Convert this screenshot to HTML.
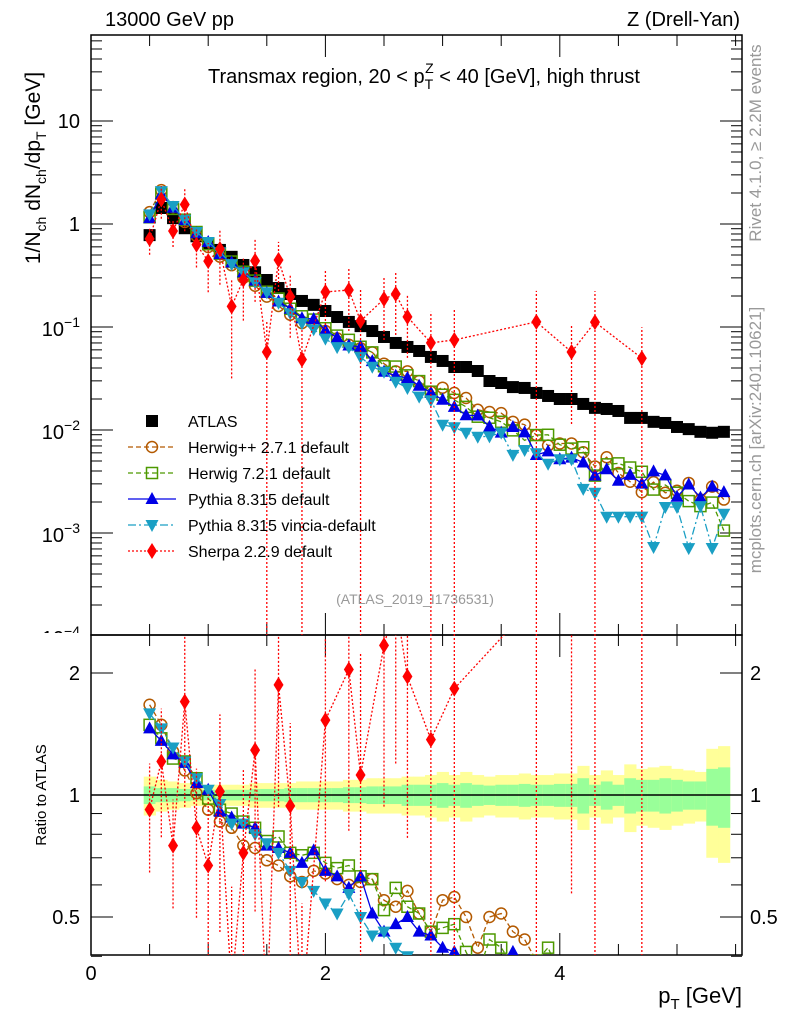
<!DOCTYPE html>
<html><head><meta charset="utf-8"><style>
html,body{margin:0;background:#fff;overflow:hidden;width:786px;height:1024px;}
svg{display:block;font-family:"Liberation Sans",Arial,sans-serif;}
</style></head><body>
<svg id="chart" width="786" height="1024" viewBox="0 0 786 1024">
<defs>
<clipPath id="clipMain"><rect x="91" y="35" width="651" height="600"/></clipPath>
<clipPath id="clipRatio"><rect x="91" y="635" width="651" height="320"/></clipPath>
<clipPath id="clipMain0"><rect x="0" y="0" width="91" height="633"/></clipPath>
</defs>
<g id="bands" clip-path="url(#clipRatio)"></g>
<g id="axes"></g>
<g id="mainData" clip-path="url(#clipMain)"></g>
<g id="ratioData" clip-path="url(#clipRatio)"></g>
<g id="legend"></g>
<text x="105" y="26" font-size="20">13000 GeV pp</text>
<text x="740" y="26" font-size="20" text-anchor="end">Z (Drell-Yan)</text>
<text x="424" y="83" font-size="20" text-anchor="middle">Transmax region, 20 &lt; p<tspan font-size="14" dy="6">T</tspan><tspan font-size="14" dx="-8" dy="-16">Z</tspan><tspan dy="10"> &lt; 40 [GeV], high thrust</tspan></text>
<text x="415" y="604" font-size="14" fill="#999" text-anchor="middle">(ATLAS_2019_I1736531)</text>
<text transform="translate(761,143) rotate(-90)" font-size="17" fill="#999" text-anchor="middle">Rivet 4.1.0, ≥ 2.2M events</text>
<text transform="translate(761,440) rotate(-90)" font-size="17" fill="#999" text-anchor="middle">mcplots.cern.ch [arXiv:2401.10621]</text>
<text transform="translate(40,168) rotate(-90)" font-size="21" text-anchor="middle">1/N<tspan font-size="14" dy="6">ch</tspan><tspan dy="-6"> dN</tspan><tspan font-size="14" dy="6">ch</tspan><tspan dy="-6">/dp</tspan><tspan font-size="14" dy="6">T</tspan><tspan dy="-6"> [GeV]</tspan></text>
<text transform="translate(46,795) rotate(-90)" font-size="15" text-anchor="middle">Ratio to ATLAS</text>
<text x="742" y="1003" font-size="22" text-anchor="end">p<tspan font-size="15" dy="6">T</tspan><tspan dy="-6"> [GeV]</tspan></text>
</svg>
<script>
const pT = [];
for (let i = 0; i < 50; i++) pT.push(+(0.5 + 0.1 * i).toFixed(1));
const atlas = [0.78,1.43,1.14,0.91,0.76,0.65,0.56,0.48,0.40,0.34,0.286,0.239,0.209,0.179,0.164,0.143,0.125,0.112,0.102,0.0914,0.080,0.070,0.064,0.0585,0.0512,0.0468,0.0409,0.0409,0.0374,0.0299,0.0286,0.0261,0.0256,0.0229,0.0214,0.0200,0.0200,0.0179,0.0164,0.0160,0.0153,0.0131,0.0131,0.0120,0.0117,0.0107,0.0102,0.0096,0.0094,0.0096];
const bandYellow = [0.11,0.09,0.08,0.07,0.06,0.06,0.06,0.06,0.06,0.07,0.07,0.07,0.07,0.08,0.08,0.08,0.08,0.09,0.09,0.10,0.10,0.10,0.11,0.11,0.12,0.14,0.12,0.14,0.12,0.11,0.12,0.12,0.13,0.12,0.12,0.13,0.13,0.18,0.12,0.15,0.12,0.19,0.16,0.17,0.18,0.16,0.15,0.14,0.30,0.32];
const bandGreen = [0.05,0.04,0.04,0.035,0.03,0.03,0.03,0.03,0.03,0.035,0.035,0.035,0.04,0.04,0.04,0.04,0.04,0.045,0.045,0.05,0.05,0.05,0.06,0.06,0.06,0.07,0.06,0.07,0.06,0.055,0.06,0.06,0.065,0.06,0.06,0.065,0.065,0.1,0.06,0.08,0.06,0.1,0.09,0.09,0.1,0.09,0.08,0.08,0.16,0.17];
const rHerwigpp = [1.67,1.49,1.28,1.15,1.01,0.92,0.86,0.83,0.75,0.74,0.69,0.67,0.63,0.61,0.65,0.64,0.62,0.60,0.61,0.62,0.55,0.53,0.58,0.51,0.46,0.55,0.56,0.50,0.42,0.50,0.51,0.46,0.44,0.39,0.33,0.37,0.37,0.34,0.27,0.34,0.25,0.24,0.19,0.26,0.21,0.24,0.30,0.22,0.30,0.22];
const rHerwig7 = [1.49,1.38,1.23,1.21,1.10,0.98,0.92,0.90,0.86,0.83,0.77,0.79,0.72,0.71,0.72,0.68,0.66,0.67,0.63,0.62,0.52,0.59,0.53,0.51,0.46,0.47,0.48,0.41,0.36,0.44,0.42,0.38,0.31,0.39,0.42,0.36,0.33,0.38,0.22,0.29,0.31,0.33,0.30,0.22,0.25,0.23,0.20,0.19,0.21,0.11];
const rPythia = [1.46,1.36,1.26,1.20,1.07,1.03,0.91,0.88,0.85,0.83,0.75,0.74,0.72,0.68,0.73,0.65,0.63,0.59,0.63,0.51,0.46,0.48,0.50,0.46,0.45,0.42,0.41,0.34,0.37,0.36,0.33,0.41,0.37,0.25,0.29,0.26,0.27,0.27,0.22,0.26,0.21,0.28,0.23,0.33,0.31,0.21,0.29,0.23,0.30,0.26];
const rVincia = [1.59,1.46,1.31,1.21,1.10,1.03,0.95,0.85,0.85,0.80,0.76,0.72,0.65,0.61,0.58,0.54,0.51,0.57,0.50,0.45,0.46,0.42,0.40,0.36,0.38,0.24,0.26,0.23,0.23,0.29,0.33,0.22,0.25,0.26,0.22,0.26,0.26,0.15,0.15,0.09,0.094,0.11,0.11,0.061,0.153,0.167,0.070,0.19,0.076,0.16];
const rSherpa = [0.92,1.21,0.75,1.70,0.83,0.67,1.02,0.33,0.72,1.29,0.20,1.87,0.94,0.27,null,1.53,null,2.04,1.12,null,2.34,2.99,1.96,null,1.37,null,1.83,null,null,null,null,null,null,4.9,null,null,2.86,null,6.8,null,null,null,3.8,null,null,null,null,null,null,null];
const eSherpa = [0.3,0.35,0.3,0.45,0.4,0.5,0.55,0.8,0.6,0.6,1,0.5,0.6,1,null,0.6,null,0.6,1,null,0.6,0.6,0.6,null,1,null,1,null,null,null,null,null,null,1,null,null,0.8,null,1,null,null,null,1,null,null,null,null,null,null,null];
const mainTicks = [1,0,-1,-2,-3,-4];
const ratioTicks = [2,1,0.5];
const xTicks = [0,2,4];

const NS = "http://www.w3.org/2000/svg";
const XR = 742;
const X = v => 91 + v * 117.2;
const Y = v => 224 - 103 * Math.log10(v);
const RY = r => 795 - 122 * Math.log2(r);
const clampM = y => Math.max(30, Math.min(640, y));
const clampR = y => Math.max(630, Math.min(960, y));
const clampRL = y => Math.max(600, Math.min(1015, y));
function mk(tag, attrs, parent) {
  const e = document.createElementNS(NS, tag);
  for (const k in attrs) e.setAttribute(k, attrs[k]);
  parent.appendChild(e);
  return e;
}
const axes = document.getElementById('axes');
const bands = document.getElementById('bands');
const mainG = document.getElementById('mainData');
const ratioG = document.getElementById('ratioData');
const legG = document.getElementById('legend');

pT.forEach((p, i) => {
  const x0 = X(p - 0.05), x1 = X(p + 0.05);
  const y = mk('rect', {x: x0, y: RY(1 + bandYellow[i]), width: x1 - x0 + 0.5, height: RY(1 - bandYellow[i]) - RY(1 + bandYellow[i]), fill: '#ffff99'}, bands);
  
  
  const g = mk('rect', {x: x0, y: RY(1 + bandGreen[i]), width: x1 - x0 + 0.5, height: RY(1 - bandGreen[i]) - RY(1 + bandGreen[i]), fill: '#99ff99'}, bands);
  
  
});

const f1 = mk('rect', {x: 91, y: 35, width: XR - 91, height: 600, fill: 'none', stroke: '#000', 'stroke-width': 1.5}, axes);


const f2 = mk('rect', {x: 91, y: 635, width: XR - 91, height: 320, fill: 'none', stroke: '#000', 'stroke-width': 1.5}, axes);


const one = mk('line', {x1: 91, x2: XR, y1: RY(1), y2: RY(1), stroke: '#000', 'stroke-width': 1.5}, axes);



for (let d = -4; d <= 1; d++) {
  for (let m = 1; m <= 9; m++) {
    const v = m * Math.pow(10, d);
    const y = Y(v);
    if (y < 35 || y > 635) continue;
    const len = m === 1 ? 22 : 11;
    mk('line', {x1: 91, x2: 91 + len, y1: y, y2: y, stroke: '#000'}, axes);
    mk('line', {x1: XR, x2: XR - len, y1: y, y2: y, stroke: '#000'}, axes);
  }
}
mainTicks.forEach(d => {
  const y = Y(Math.pow(10, d));
  let t;
  if (d === 1) { t = mk('text', {x: 80, y: y + 7, 'font-size': 20, 'text-anchor': 'end'}, axes); t.textContent = '10'; }
  else if (d === 0) { t = mk('text', {x: 80, y: y + 7, 'font-size': 20, 'text-anchor': 'end'}, axes); t.textContent = '1'; }
  else {
    t = mk('text', {x: 80, y: y + 9, 'font-size': 20, 'text-anchor': 'end'}, axes);
    if (d === -4) t.setAttribute('clip-path', 'url(#clipMain0)');
    t.innerHTML = '10<tspan font-size="14" dy="-9">' + '\u2212' + (-d) + '</tspan>';
  }
  
  
});

[0.4,0.5,0.6,0.7,0.8,0.9,1,2].forEach(r => {
  const y = RY(r);
  const len = (r === 1 || r === 2 || r === 0.5) ? 22 : 11;
  mk('line', {x1: 91, x2: 91 + len, y1: y, y2: y, stroke: '#000'}, axes);
  mk('line', {x1: XR, x2: XR - len, y1: y, y2: y, stroke: '#000'}, axes);
});
ratioTicks.forEach(r => {
  const t = mk('text', {x: 80, y: RY(r) + 7, 'font-size': 20, 'text-anchor': 'end'}, axes);
  t.textContent = String(r);
  
  
  const t2 = mk('text', {x: 750, y: RY(r) + 7, 'font-size': 20}, axes);
  t2.textContent = String(r);
  
  
});

for (let v = 0; v <= 5.5; v += 0.5) {
  const x = X(v);
  const len = (v % 2 === 0) ? 22 : 11;
  [[35, 1], [635, -1], [635, 1], [955, -1]].forEach(([y0, s]) => {
    mk('line', {x1: x, x2: x, y1: y0, y2: y0 + s * len, stroke: '#000'}, axes);
  });
}
xTicks.forEach(v => {
  const t = mk('text', {x: X(v), y: 980, 'font-size': 20, 'text-anchor': 'middle'}, axes);
  t.textContent = String(v);
  
  
});

function marker(type, x, y, color, parent) {
  let e;
  if (type === 'sq') e = mk('rect', {x: x - 6, y: y - 6, width: 12, height: 12, fill: '#000'}, parent);
  else if (type === 'circ') e = mk('circle', {cx: x, cy: y, r: 5.5, fill: 'none', stroke: color, 'stroke-width': 1.5}, parent);
  else if (type === 'osq') e = mk('rect', {x: x - 5.5, y: y - 5.5, width: 11, height: 11, fill: 'none', stroke: color, 'stroke-width': 1.5}, parent);
  else if (type === 'tri') e = mk('polygon', {points: `${x},${y - 7} ${x - 6.5},${y + 5} ${x + 6.5},${y + 5}`, fill: color}, parent);
  else if (type === 'itri') e = mk('polygon', {points: `${x},${y + 7} ${x - 6.5},${y - 5} ${x + 6.5},${y - 5}`, fill: color}, parent);
  else if (type === 'dia') e = mk('polygon', {points: `${x},${y - 8} ${x - 5},${y} ${x},${y + 8} ${x + 5},${y}`, fill: color}, parent);
  return e;
}

const series = [
  {name: 'herwigpp', r: rHerwigpp, color: '#b35900', dash: '5,3', mk: 'circ', label: 'Herwig++ 2.7.1 default'},
  {name: 'herwig7', r: rHerwig7, color: '#4d9900', dash: '5,3', mk: 'osq', label: 'Herwig 7.2.1 default'},
  {name: 'pythia', r: rPythia, color: '#0000e6', dash: '', mk: 'tri', label: 'Pythia 8.315 default'},
  {name: 'vincia', r: rVincia, color: '#1a9fc4', dash: '8,3,2,3', mk: 'itri', label: 'Pythia 8.315 vincia-default'},
  {name: 'sherpa', r: rSherpa, color: '#ff0000', dash: '2,2', mk: 'dia', label: 'Sherpa 2.2.9 default'}
];

atlas.forEach((v, i) => {
  const m = marker('sq', X(pT[i]), Y(v), '#000', mainG);
  
  
});

series.forEach(s => {
  let pm = '', pr = '';
  s.r.forEach((r, i) => {
    if (r === null) return;
    const x = X(pT[i]);
    pm += (pm ? 'L' : 'M') + x + ',' + clampM(Y(r * atlas[i]));
    pr += (pr ? 'L' : 'M') + x + ',' + clampRL(RY(r));
  });
  const lm = mk('path', {d: pm, fill: 'none', stroke: s.color, 'stroke-width': 1.3, 'stroke-dasharray': s.dash}, mainG);
  
  
  const lr = mk('path', {d: pr, fill: 'none', stroke: s.color, 'stroke-width': 1.3, 'stroke-dasharray': s.dash}, ratioG);
  
  
  s.r.forEach((r, i) => {
    if (r === null) return;
    const x = X(pT[i]);
    if (s.name === 'sherpa') {
      const e = eSherpa[i];
      const v = r * atlas[i];
      const yLo = e >= 1 ? 640 : clampM(Y(v * (1 - e)));
      const yHi = clampM(Y(v * (1 + e)));
      const eb = mk('line', {x1: x, x2: x, y1: yLo, y2: yHi, stroke: s.color, 'stroke-width': 1.3, 'stroke-dasharray': '2,2'}, mainG);
      
      
      const ryLo = e >= 1 ? 960 : clampR(RY(r * (1 - e)));
      const ryHi = clampR(RY(r * (1 + e)));
      const eb2 = mk('line', {x1: x, x2: x, y1: ryLo, y2: ryHi, stroke: s.color, 'stroke-width': 1.3, 'stroke-dasharray': '2,2'}, ratioG);
      
      
    }
    const ym = Y(r * atlas[i]);
    if (ym > 25 && ym < 645) {
      const a = marker(s.mk, x, ym, s.color, mainG);
      
      
    }
    const yr = RY(r);
    if (yr > 625 && yr < 965) {
      const b = marker(s.mk, x, yr, s.color, ratioG);
      
      
    }
  });
});

const legY = [421, 447, 473, 499, 525, 551];
const la = marker('sq', 152, legY[0], '#000', legG);


const lt = mk('text', {x: 188, y: legY[0] + 6, 'font-size': 16}, legG);
lt.textContent = 'ATLAS';


series.forEach((s, k) => {
  const y = legY[k + 1];
  const l = mk('line', {x1: 128, x2: 176, y1: y, y2: y, stroke: s.color, 'stroke-width': 1.3, 'stroke-dasharray': s.dash}, legG);
  
  
  const m = marker(s.mk, 152, y, s.color, legG);
  
  
  const t = mk('text', {x: 188, y: y + 6, 'font-size': 16}, legG);
  t.textContent = s.label;
  
  
});
</script>
</body></html>
